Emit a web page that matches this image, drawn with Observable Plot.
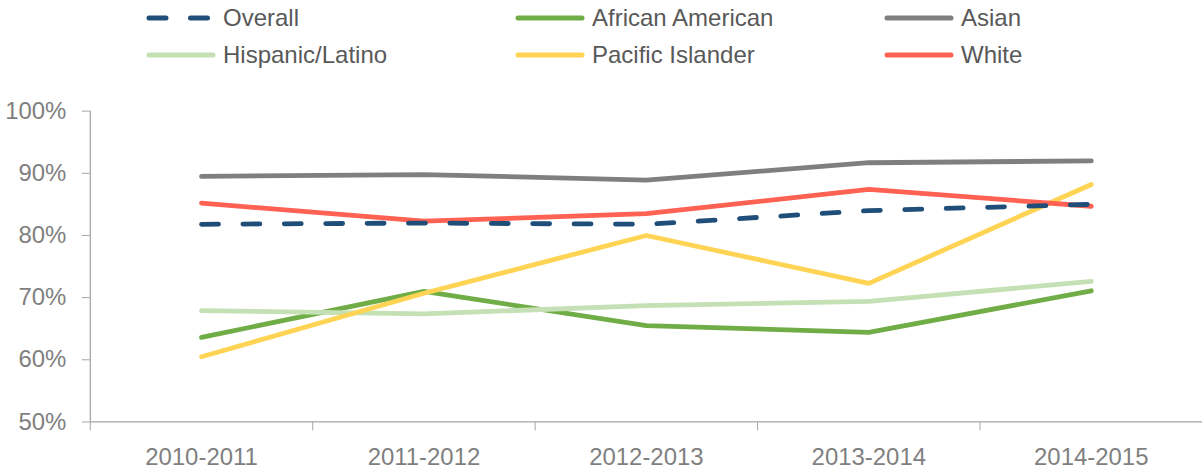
<!DOCTYPE html>
<html>
<head>
<meta charset="utf-8">
<script src="https://cdn.jsdelivr.net/npm/d3@7"></script>
<script src="https://cdn.jsdelivr.net/npm/@observablehq/plot@0.6"></script>
<style>
  html, body { margin: 0; padding: 0; background: #fff; overflow: hidden; width: 1202px; height: 472px; }
  #legend { position: relative; height: 88px; width: 1202px; font-family: "Liberation Sans Narrow", "Arial Narrow", "Liberation Sans", sans-serif; font-size: 24px; color: #595959; }
  .item { position: absolute; display: flex; align-items: center; height: 30px; }
  .item svg { margin-right: 7px; }
</style>
</head>
<body>
<div id="legend"></div>
<div id="chart"></div>
<script>
const years = ["2010-2011", "2011-2012", "2012-2013", "2013-2014", "2014-2015"];
const seriesNames = ["Overall", "African American", "Asian", "Hispanic/Latino", "Pacific Islander", "White"];
const overall = [81.8, 82.0, 81.8, 84.0, 85.0];
const africanAmerican = [63.6, 71.0, 65.5, 64.4, 71.1];
const asian = [89.5, 89.8, 88.9, 91.7, 92.0];
const hispanicLatino = [67.9, 67.4, 68.7, 69.4, 72.6];
const pacificIslander = [60.5, 70.7, 80.0, 72.3, 88.2];
const white = [85.2, 82.3, 83.5, 87.4, 84.7];
const yTicks = [50, 60, 70, 80, 90, 100];
const colors = ["#1F4E79", "#70AD47", "#7F7F7F", "#C5E0B4", "#FFD455", "#FF6152"];

const seriesValues = [overall, africanAmerican, asian, hispanicLatino, pacificIslander, white];
const data = [];
seriesNames.forEach((s, i) => years.forEach((y, j) => data.push({series: s, year: y, value: seriesValues[i][j]})));

// Legend
const legend = document.getElementById("legend");
const legendPos = [
  {x: 146, y: 3}, {x: 515, y: 3}, {x: 884, y: 3},
  {x: 146, y: 40}, {x: 515, y: 40}, {x: 884, y: 40}
];
seriesNames.forEach((s, i) => {
  const div = document.createElement("div");
  div.className = "item";
  div.style.left = legendPos[i].x + "px";
  div.style.top = legendPos[i].y + "px";
  const dash = i === 0 ? ' stroke-dasharray="17 24.5"' : '';
  div.innerHTML = `<svg width="70" height="10"><line x1="3" x2="67" y1="5" y2="5" stroke="${colors[i]}" stroke-width="5" stroke-linecap="round"${dash}/></svg><span>${s}</span>`;
  legend.appendChild(div);
});

const W = 1205;
const bw = (W - 90) / years.length;
const font = '"Liberation Sans Narrow", "Arial Narrow", "Liberation Sans", sans-serif';

const plot = Plot.plot({
  width: W,
  height: 384,
  marginLeft: 90,
  marginRight: 0,
  marginTop: 22.7,
  marginBottom: 49.7,
  style: {fontFamily: font, fontSize: "24px", color: "#7f7f7f", background: "transparent"},
  x: {type: "band", domain: years, padding: 0, axis: null},
  y: {domain: [50, 100], axis: null},
  color: {domain: seriesNames, range: colors},
  marks: [
    Plot.ruleY([50], {stroke: "#a6a6a6", strokeWidth: 1.3}),
    Plot.ruleX([years[0]], {dx: -bw / 2, y1: 50, y2: 100, stroke: "#a6a6a6", strokeWidth: 1.3}),
    Plot.axisY({ticks: yTicks, tickSize: 8, tickPadding: 16, tickFormat: d => d + "%", stroke: "#a6a6a6", fill: "#7f7f7f", fontSize: 24, label: null}),
    Plot.axisX({ticks: years, tickSize: 9, dx: -bw / 2, text: null, stroke: "#a6a6a6", label: null}),
    Plot.axisX({ticks: years, tickSize: 0, tickPadding: 26, fill: "#7f7f7f", fontSize: 24, label: null}),
    ...seriesNames.slice(1).map((s, k) => Plot.line(data.filter(d => d.series === s), {
      x: "year", y: "value", stroke: colors[k + 1], strokeWidth: 4.8, strokeLinecap: "round", strokeLinejoin: "round"
    })),
    Plot.line(data.filter(d => d.series === "Overall"), {
      x: "year", y: "value", stroke: colors[0], strokeWidth: 4.8, strokeLinecap: "round", strokeDasharray: "17 24.5"
    })
  ]
});
document.getElementById("chart").appendChild(plot);
</script>
</body>
</html>
